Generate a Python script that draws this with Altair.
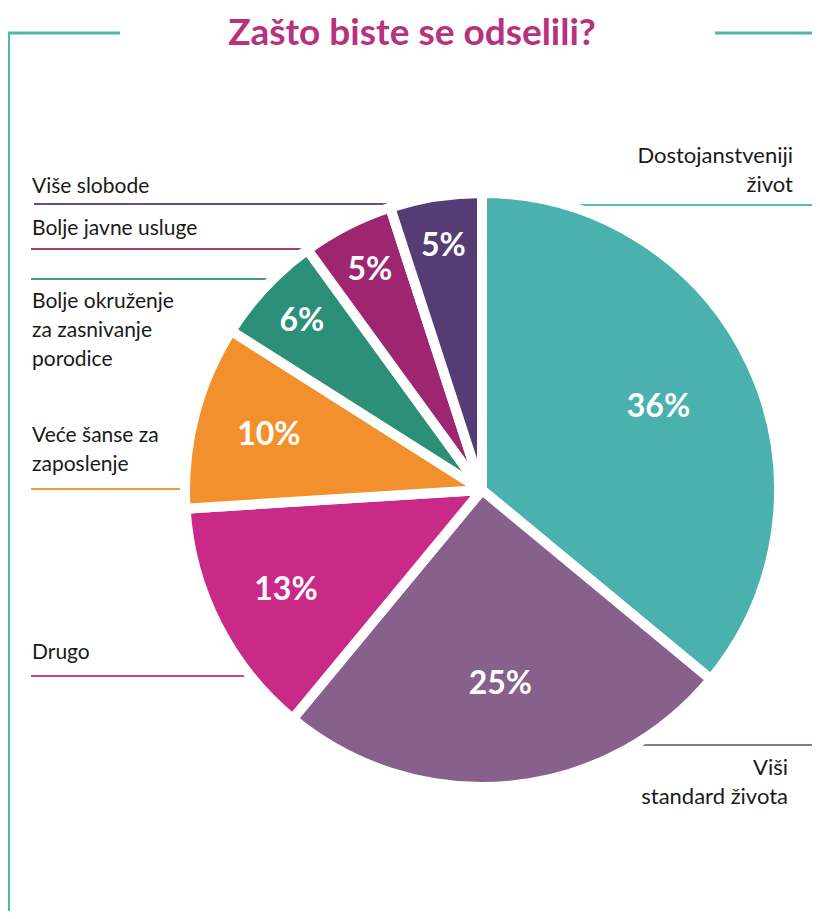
import altair as alt
import pandas as pd

# ---- data ----
categories = ["Dostojanstveniji život", "Viši standard života", "Drugo",
              "Veće šanse za zaposlenje", "Bolje okruženje za zasnivanje porodice",
              "Bolje javne usluge", "Više slobode"]
values = [36, 25, 13, 10, 6, 5, 5]
colors = ["#4AB1AE", "#87618B", "#C92A88", "#F3902E", "#2B9077", "#9E2671", "#553C74"]
title_text = "Zašto biste se odselili?"

W, H = 804, 903
CX, CY = 474, 482  # pie centre (pixels)

df = pd.DataFrame({"cat": categories, "value": values, "idx": list(range(len(values)))})

color_enc = alt.Color("cat:N", scale=alt.Scale(domain=categories, range=colors), legend=None)

arcs = alt.Chart(df).mark_arc(outerRadius=297, stroke="white", strokeWidth=10, strokeJoin="round").encode(
    theta=alt.Theta("value:Q", stack=True),
    order=alt.Order("idx:Q"),
    color=color_enc,
    x=alt.value(CX), y=alt.value(CY),
)

pct = alt.Chart(df).transform_joinaggregate(
    total="sum(value)"
).transform_window(
    cum="sum(value)", sort=[alt.SortField("idx", order="ascending")],
    frame=[None, 0]
).transform_calculate(
    lbl="datum.value + '%'",
    lr="datum.value >= 20 ? 195 : (datum.value >= 10 ? 220 : 247)",
    tm="2*PI*(datum.cum - datum.value/2)/datum.total",
).mark_text(font="Lato", fontWeight="bold", fontSize=32, baseline="middle", align="center").encode(
    text="lbl:N",
    theta=alt.Theta("tm:Q", scale=None),
    radius=alt.Radius("lr:Q", scale=None),
    color=alt.value("white"),
    x=alt.value(CX), y=alt.value(CY),
)

one = alt.Chart(pd.DataFrame({"a": [0]}))

layers = []

# frame lines and title
TEAL = "#4DB6B0"
layers.append(one.mark_rule(color=TEAL, strokeWidth=3).encode(x=alt.value(-1), x2=alt.value(112), y=alt.value(25)))
layers.append(one.mark_rule(color=TEAL, strokeWidth=3).encode(x=alt.value(0.5), y=alt.value(24), y2=alt.value(H)))
layers.append(one.mark_rule(color=TEAL, strokeWidth=3).encode(x=alt.value(707), x2=alt.value(W), y=alt.value(25)))
layers.append(one.mark_text(font="Lato", fontWeight="bold", fontSize=37, color="#B7317F",
                            align="center", baseline="alphabetic").encode(
    x=alt.value(404), y=alt.value(37), text=alt.value(title_text)))

# category labels: (text, x, baseline y, align, size)
label_layout = [
    ("Više slobode", 24, 185, "left", 21),
    ("Bolje javne usluge", 24, 227, "left", 21),
    ("Bolje okruženje\nza zasnivanje\nporodice", 24, 300, "left", 21),
    ("Veće šanse za\nzaposlenje", 24, 434, "left", 21),
    ("Drugo", 24, 651, "left", 21),
    ("Dostojanstveniji\nživot", 785, 155, "right", 22),
    ("Viši\nstandard života", 780, 767, "right", 22),
]
for txt, lx, ly, al, fs in label_layout:
    layers.append(one.mark_text(font="Lato", fontSize=fs, color="#1a1a1a", align=al,
                                baseline="alphabetic", lineBreak="\n", lineHeight=29).encode(
        x=alt.value(lx), y=alt.value(ly), text=alt.value(txt)))

# leader lines: (colour index, x1, x2, y)
leader_layout = [
    (6, 26, 472, 196),
    (5, 23, 310, 241),
    (4, 23, 275, 271),
    (3, 23, 182, 481),
    (2, 23, 250, 668),
    (0, 560, W, 197),
    (1, 600, W, 737),
]
for ci, x1, x2, ly in leader_layout:
    layers.append(one.mark_rule(color=colors[ci], strokeWidth=2, opacity=0.9).encode(
        x=alt.value(x1), x2=alt.value(x2), y=alt.value(ly)))

chart = alt.layer(*(layers + [arcs, pct])).properties(
    width=W, height=H, padding=0, autosize=alt.AutoSizeParams(type="none"),
    background="white",
).configure_view(stroke=None)

chart.save("out.html", embed_options={"renderer": "svg", "actions": False})
